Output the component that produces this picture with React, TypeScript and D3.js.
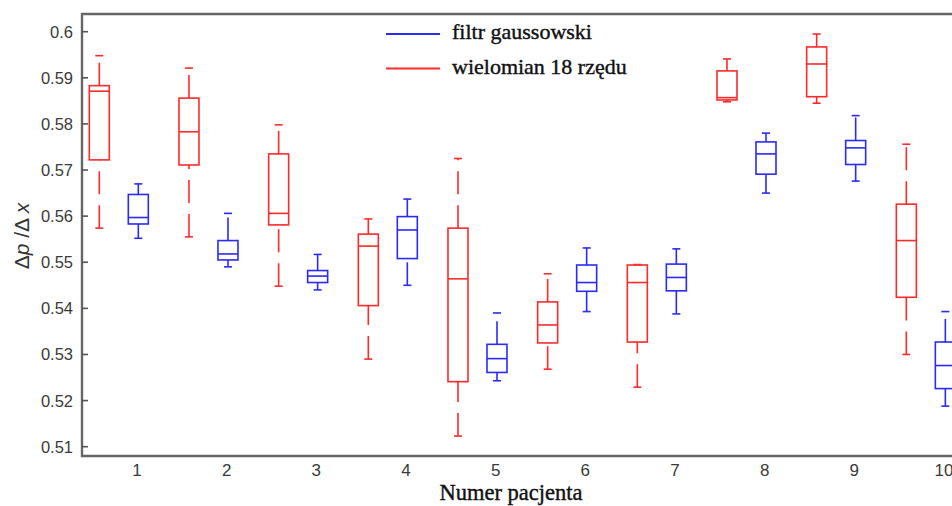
import React, { useRef, useEffect } from 'react';
import * as d3 from 'd3';

// pacjenci 1..10
const patients = [1, 2, 3, 4, 5, 6, 7, 8, 9, 10];
const yTicks = [0.51, 0.52, 0.53, 0.54, 0.55, 0.56, 0.57, 0.58, 0.59, 0.6];

// wielomian 18 rzędu (czerwony)
const polyHi = [0.5948, 0.5921, 0.5798, 0.5594, 0.5725, 0.5475, 0.5495, 0.5941, 0.5995, 0.5756];
const polyQ3 = [0.5883, 0.5856, 0.5735, 0.5561, 0.5574, 0.5414, 0.5494, 0.5915, 0.5967, 0.5626];
const polyMed = [0.5871, 0.5783, 0.5606, 0.5535, 0.5464, 0.5364, 0.5456, 0.5857, 0.593, 0.5547];
const polyQ1 = [0.5722, 0.5711, 0.5581, 0.5406, 0.5241, 0.5325, 0.5327, 0.5852, 0.5859, 0.5424];
const polyLo = [0.5574, 0.5555, 0.5448, 0.529, 0.5123, 0.5268, 0.5229, 0.5848, 0.5845, 0.53];

// filtr gaussowski (niebieski)
const gaussHi = [0.567, 0.5606, 0.5517, 0.5637, 0.539, 0.5531, 0.5529, 0.578, 0.5818, 0.5393];
const gaussQ3 = [0.5647, 0.5547, 0.5482, 0.5599, 0.5322, 0.5494, 0.5496, 0.5761, 0.5764, 0.5327];
const gaussMed = [0.5597, 0.5518, 0.547, 0.557, 0.5291, 0.5456, 0.5467, 0.5735, 0.5748, 0.5276];
const gaussQ1 = [0.5583, 0.5505, 0.5456, 0.5508, 0.5261, 0.5437, 0.5438, 0.5691, 0.5712, 0.5226];
const gaussLo = [0.5552, 0.549, 0.544, 0.545, 0.5243, 0.5393, 0.5388, 0.565, 0.5676, 0.5188];

const legendNames = ['filtr gaussowski', 'wielomian 18 rzędu'];
const BLUE = '#2a2aff';
const RED = '#ff2a2a';

export default function App() {
  const ref = useRef<SVGSVGElement | null>(null);

  useEffect(() => {
    const W = 952;
    const svg = d3.select(ref.current);
    svg.selectAll('*').remove();

    const x = d3.scaleLinear().domain([0.387, 10.6]).range([82, 997.8]);
    const y = d3.scaleLinear().domain([0.50798, 0.60384]).range([456, 14]);

    const series = [
      { color: RED, off: -0.42, hi: polyHi, q3: polyQ3, med: polyMed, q1: polyQ1, lo: polyLo },
      { color: BLUE, off: 0.015, hi: gaussHi, q3: gaussQ3, med: gaussMed, q1: gaussQ1, lo: gaussLo },
    ];

    const boxW = 20;
    const capW = 8;

    series.forEach(s => {
      const g = svg.append('g')
        .attr('stroke', s.color)
        .attr('stroke-width', 1.6)
        .attr('fill', 'none');

      patients.forEach((p, i) => {
        const cx = x(p + s.off);
        // wąsy: linia od niższej wartości do wyższej (przerywana)
        g.append('line')
          .attr('x1', cx).attr('x2', cx)
          .attr('y1', y(s.q3[i])).attr('y2', y(s.hi[i]))
          .attr('stroke-dasharray', '23,11');
        g.append('line')
          .attr('x1', cx).attr('x2', cx)
          .attr('y1', y(s.lo[i])).attr('y2', y(s.q1[i]))
          .attr('stroke-dasharray', '23,11');
        // końcówki
        [s.hi[i], s.lo[i]].forEach(v => {
          g.append('line')
            .attr('x1', cx - capW / 2).attr('x2', cx + capW / 2)
            .attr('y1', y(v)).attr('y2', y(v));
        });
        // pudełko
        g.append('rect')
          .attr('x', cx - boxW / 2)
          .attr('y', y(s.q3[i]))
          .attr('width', boxW)
          .attr('height', Math.max(0.5, y(s.q1[i]) - y(s.q3[i])));
        // mediana
        g.append('line')
          .attr('x1', cx - boxW / 2).attr('x2', cx + boxW / 2)
          .attr('y1', y(s.med[i])).attr('y2', y(s.med[i]));
      });
    });

    // ramka osi
    svg.append('path')
      .attr('d', `M${W + 10},${y.range()[1]}H${x.range()[0]}V${y.range()[0]}H${W + 10}`)
      .attr('stroke', '#666')
      .attr('stroke-width', 2.4)
      .attr('fill', 'none');

    // oś Y
    const yAxis = svg.append('g');
    yTicks.forEach(t => {
      yAxis.append('line')
        .attr('x1', 82).attr('x2', 88)
        .attr('y1', y(t)).attr('y2', y(t))
        .attr('stroke', '#555').attr('stroke-width', 1.6);
      yAxis.append('text')
        .attr('x', 73)
        .attr('y', y(t))
        .attr('dy', '0.36em')
        .attr('text-anchor', 'end')
        .attr('font-family', '"Liberation Sans", Arial, sans-serif')
        .attr('font-size', 16.5)
        .attr('fill', '#3a3a3a')
        .text(String(t));
    });

    // oś X
    const xAxis = svg.append('g');
    patients.forEach(p => {
      xAxis.append('text')
        .attr('x', x(p))
        .attr('y', 476)
        .attr('text-anchor', 'middle')
        .attr('font-family', '"Liberation Sans", Arial, sans-serif')
        .attr('font-size', 17)
        .attr('fill', '#3a3a3a')
        .text(String(p));
    });

    svg.append('text')
      .attr('x', 511)
      .attr('y', 500)
      .attr('text-anchor', 'middle')
      .attr('font-family', '"Liberation Serif", "Times New Roman", serif')
      .attr('font-size', 22.5)
      .attr('fill', '#111')
      .attr('stroke', '#111')
      .attr('stroke-width', 0.4)
      .text('Numer pacjenta');

    // etykieta osi Y
    const yl = svg.append('text')
      .attr('transform', 'translate(29,236) rotate(-90)')
      .attr('text-anchor', 'middle')
      .attr('font-family', '"Liberation Sans", Arial, sans-serif')
      .attr('font-size', 21)
      .attr('fill', '#333');
    yl.append('tspan').text('Δ');
    yl.append('tspan').attr('font-style', 'italic').text('p');
    yl.append('tspan').text(' /Δ ');
    yl.append('tspan').attr('font-style', 'italic').text('x');

    // legenda
    const legend = svg.append('g');
    [BLUE, RED].forEach((c, i) => {
      const ly = 34 + i * 34.5;
      legend.append('line')
        .attr('x1', 386).attr('x2', 440)
        .attr('y1', ly).attr('y2', ly)
        .attr('stroke', c).attr('stroke-width', 1.8);
      legend.append('text')
        .attr('x', 452)
        .attr('y', ly + 5)
        .attr('font-family', '"Liberation Serif", "Times New Roman", serif')
        .attr('font-size', 22)
        .attr('fill', '#111')
        .attr('stroke', '#111')
        .attr('stroke-width', 0.4)
        .text(legendNames[i]);
    });
  }, []);

  return (
    <svg
      ref={ref}
      width={952}
      height={506}
      style={{ position: 'absolute', top: 0, left: 0, background: '#fff' }}
    />
  );
}
